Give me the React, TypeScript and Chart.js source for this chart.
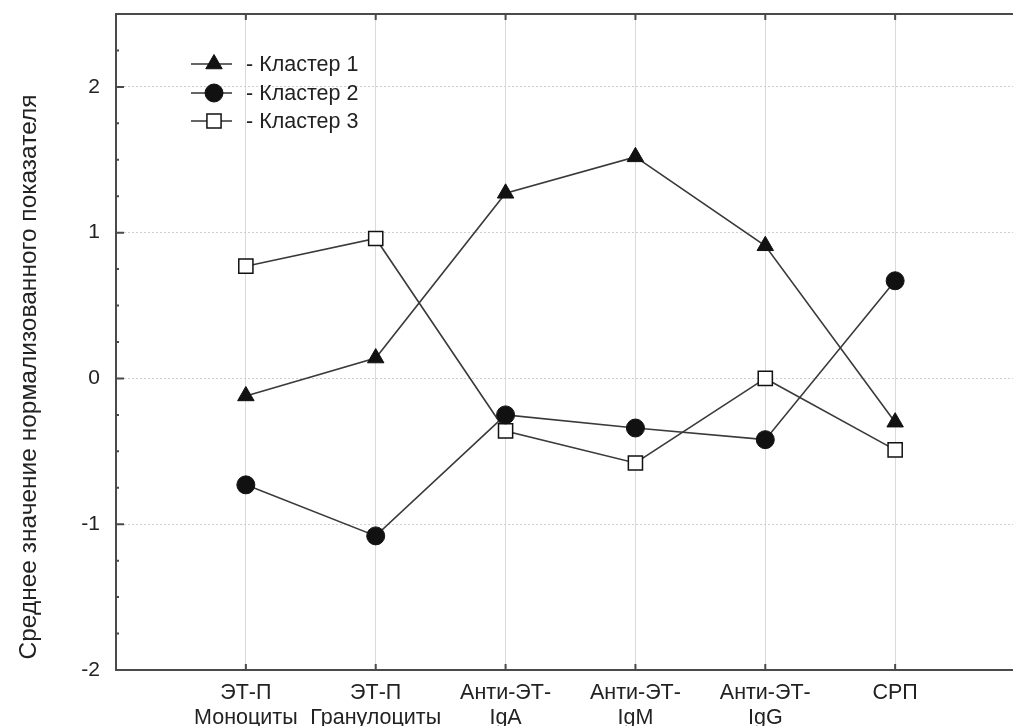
import React, { useEffect, useRef } from 'react';
import { Chart, registerables } from 'chart.js';
import { drawPoint } from 'chart.js/helpers';
Chart.register(...registerables);

const categories: string[][] = [
  ['ЭТ-П', 'Моноциты'],
  ['ЭТ-П', 'Гранулоциты'],
  ['Анти-ЭТ-', 'IgA'],
  ['Анти-ЭТ-', 'IgM'],
  ['Анти-ЭТ-', 'IgG'],
  ['СРП'],
];
const seriesNames = ['Кластер 1', 'Кластер 2', 'Кластер 3'];
const cluster1 = [-0.12, 0.14, 1.27, 1.52, 0.91, -0.3];
const cluster2 = [-0.73, -1.08, -0.25, -0.34, -0.42, 0.67];
const cluster3 = [0.77, 0.96, -0.36, -0.58, 0.0, -0.49];
const yTicks = [-2, -1, 0, 1, 2];
const yMinorStep = 0.25;
const yTitle = 'Среднее значение нормализованного показателя';

const FONT = "'Liberation Sans', Arial, sans-serif";

const decorPlugin = {
  id: 'decor',
  afterDatasetsDraw(chart: any) {
    const { ctx, chartArea } = chart;
    const { left, right, top, bottom } = chartArea;
    const xs = chart.scales.x;
    const ys = chart.scales.y;
    ctx.save();
    // frame
    ctx.strokeStyle = '#4a4a4a';
    ctx.lineWidth = 2;
    ctx.setLineDash([]);
    ctx.strokeRect(left, top, right - left, bottom - top);
    // ticks
    ctx.lineWidth = 2;
    ctx.beginPath();
    for (let v = -2; v <= 2.5 + 1e-9; v += yMinorStep) {
      const y = ys.getPixelForValue(v);
      const major = yTicks.includes(Math.round(v * 100) / 100);
      ctx.moveTo(left, y);
      ctx.lineTo(left + (major ? 8 : 3), y);
    }
    categories.forEach((_, i) => {
      const x = xs.getPixelForValue(i);
      ctx.moveTo(x, bottom);
      ctx.lineTo(x, bottom - 6);
      ctx.moveTo(x, top);
      ctx.lineTo(x, top + 6);
    });
    ctx.stroke();

    // y title
    ctx.save();
    ctx.translate(29, 377);
    ctx.rotate(-Math.PI / 2);
    ctx.fillStyle = '#222';
    ctx.font = `24.5px ${FONT}`;
    ctx.textAlign = 'center';
    ctx.textBaseline = 'middle';
    ctx.fillText(yTitle, 0, 0);
    ctx.restore();

    // legend
    const rows = [64, 93, 121];
    chart.data.datasets.forEach((ds: any, i: number) => {
      const y = rows[i];
      ctx.strokeStyle = '#333';
      ctx.lineWidth = 1.5;
      ctx.beginPath();
      ctx.moveTo(191, y);
      ctx.lineTo(232, y);
      ctx.stroke();
      ctx.fillStyle = ds.pointBackgroundColor;
      ctx.strokeStyle = ds.pointBorderColor;
      ctx.lineWidth = ds.pointBorderWidth;
      drawPoint(ctx, { pointStyle: ds.pointStyle, radius: ds.pointRadius, rotation: 0, borderWidth: ds.pointBorderWidth }, 214, y);
      ctx.fillStyle = '#222';
      ctx.font = `21.5px ${FONT}`;
      ctx.textAlign = 'left';
      ctx.textBaseline = 'middle';
      ctx.fillText('- ' + seriesNames[i], 246, y + 1);
    });
    ctx.restore();
  },
};

export default function App() {
  const ref = useRef<HTMLCanvasElement>(null);
  useEffect(() => {
    if (!ref.current) return;
    const mk = (vals: number[]) => vals.map((v, i) => ({ x: i, y: v }));
    const base = {
      borderColor: '#3a3a3a',
      borderWidth: 1.6,
      tension: 0,
      pointBorderColor: '#111',
      pointBorderWidth: 1,
    };
    const chart = new Chart(ref.current, {
      type: 'line',
      data: {
        datasets: [
          { ...base, label: seriesNames[0], data: mk(cluster1), pointStyle: 'triangle', pointRadius: 9.5, pointBackgroundColor: '#111' },
          { ...base, label: seriesNames[1], data: mk(cluster2), pointStyle: 'circle', pointRadius: 9, pointBackgroundColor: '#111' },
          { ...base, label: seriesNames[2], data: mk(cluster3), pointStyle: 'rect', pointRadius: 10, pointBackgroundColor: '#fff', pointBorderWidth: 1.5 },
        ] as any,
      },
      plugins: [decorPlugin],
      options: {
        responsive: false,
        animation: false,
        layout: { padding: { left: 0, top: 14, right: 15, bottom: 0 } },
        plugins: { legend: { display: false }, tooltip: { enabled: false } },
        scales: {
          x: {
            type: 'linear',
            min: -1,
            max: 6,
            afterFit(scale: any) { scale.height = 56; scale.paddingLeft = 0; scale.paddingRight = 0; },
            afterBuildTicks(scale: any) { scale.ticks = categories.map((_, i) => ({ value: i })); },
            ticks: {
              autoSkip: false,
              maxRotation: 0,
              padding: 11,
              color: '#222',
              font: { size: 21.5, family: FONT, lineHeight: 1.15 },
              callback: (v: any) => categories[v as number],
            },
            grid: { color: '#dadada', lineWidth: 1, drawTicks: false },
            border: { display: false },
          },
          y: {
            type: 'linear',
            min: -2,
            max: 2.5,
            afterFit(scale: any) { scale.width = 116; scale.paddingTop = 0; scale.paddingBottom = 0; },
            afterBuildTicks(scale: any) { scale.ticks = yTicks.map((v) => ({ value: v })); },
            ticks: {
              padding: 16,
              color: '#222',
              font: { size: 21, family: FONT },
            },
            grid: { color: '#cfcfcf', lineWidth: 1, drawTicks: false },
            border: { display: false, dash: [2, 2] },
          },
        },
      } as any,
    });
    return () => chart.destroy();
  }, []);
  return (
    <div style={{ position: 'fixed', left: 0, top: 0, width: 1013, height: 726, overflow: 'hidden', background: '#fff' }}>
      <canvas ref={ref} width={1040} height={726} style={{ display: 'block' }} />
    </div>
  );
}
